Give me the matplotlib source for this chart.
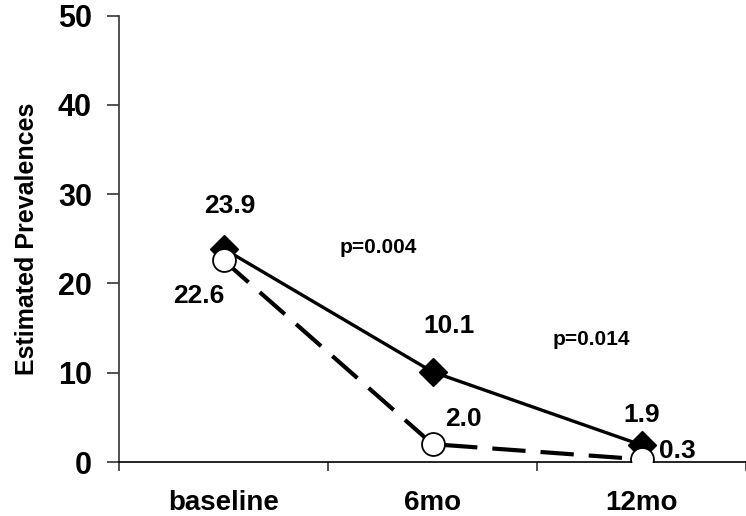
import matplotlib
matplotlib.use("Agg")
import matplotlib.pyplot as plt
import numpy as np

plt.rcParams['font.family'] = ['Liberation Sans', 'DejaVu Sans']
plt.rcParams['font.weight'] = 'bold'

categories = ["baseline", "6mo", "12mo"]
series_solid = [23.9, 10.1, 1.9]
series_dashed = [22.6, 2.0, 0.3]
yticks = [0, 10, 20, 30, 40, 50]
p_labels = ["p=0.004", "p=0.014"]

fig = plt.figure(figsize=(7.46, 5.16), dpi=100)
ax = fig.add_axes([119/746, (516-462)/516, (746-119)/746, (462-15.7)/516])

x = np.arange(len(categories))
ax.plot(x, series_dashed, color='black', lw=3.0, dashes=(8, 3.6), zorder=2)
ax.plot(x, series_solid, color='black', lw=2.4, marker='D', markersize=14.5,
        markerfacecolor='black', markeredgecolor='black', zorder=3)
ax.plot(x, series_dashed, linestyle='none', marker='o', markersize=16.5,
        markerfacecolor='white', markeredgecolor='black', markeredgewidth=1.3, zorder=4)

lab_fs = 19
kw = dict(ha='center', va='baseline', fontsize=lab_fs, fontweight='bold', zorder=5)
ax.text(x[0] + 0.03, series_solid[0] + 4.0, f"{series_solid[0]:.1f}", **kw)
ax.text(x[0] - 0.12, series_dashed[0] - 4.8, f"{series_dashed[0]:.1f}", **kw)
ax.text(x[1] + 0.08, series_solid[1] + 4.35, f"{series_solid[1]:.1f}", **kw)
ax.text(x[1] + 0.15, series_dashed[1] + 2.0, f"{series_dashed[1]:.1f}", **kw)
ax.text(x[2] + 0.0, series_solid[2] + 2.6, f"{series_solid[2]:.1f}", **kw)
ax.text(x[2] + 0.17, series_dashed[2] + 0.15, f"{series_dashed[2]:.1f}", **kw)

ax.text(0.74, 23.4, p_labels[0], ha='center', va='baseline', fontsize=15, fontweight='bold')
ax.text(1.76, 13.1, p_labels[1], ha='center', va='baseline', fontsize=15, fontweight='bold')

ax.set_xlim(-0.5, 2.5)
ax.set_ylim(0, 50)
ax.set_yticks(yticks)
ax.set_yticklabels([str(v) for v in yticks], fontsize=22, fontweight='bold')
ax.set_xticks([-0.5, 0.5, 1.5, 2.5])
ax.set_xticklabels([])
ax.set_xticks(x, minor=True)
ax.set_xticklabels(categories, minor=True, fontsize=20, fontweight='bold')
ax.tick_params(axis='x', which='minor', length=0, pad=20)
ax.tick_params(axis='x', which='major', direction='out', length=6.5, width=1.2, color='#333333')
ax.tick_params(axis='y', direction='out', length=8.6, width=1.2, color='#333333', pad=11)

for s in ['top', 'right']:
    ax.spines[s].set_visible(False)
ax.spines['left'].set_color('#333333')
ax.spines['left'].set_linewidth(1.2)
ax.spines['bottom'].set_color('black')
ax.spines['bottom'].set_linewidth(1.2)

ax.set_ylabel("Estimated Prevalences", fontsize=18, fontweight='bold')
ax.yaxis.set_label_coords(-0.128, 0.5)

fig.savefig("out.png", dpi=100)
